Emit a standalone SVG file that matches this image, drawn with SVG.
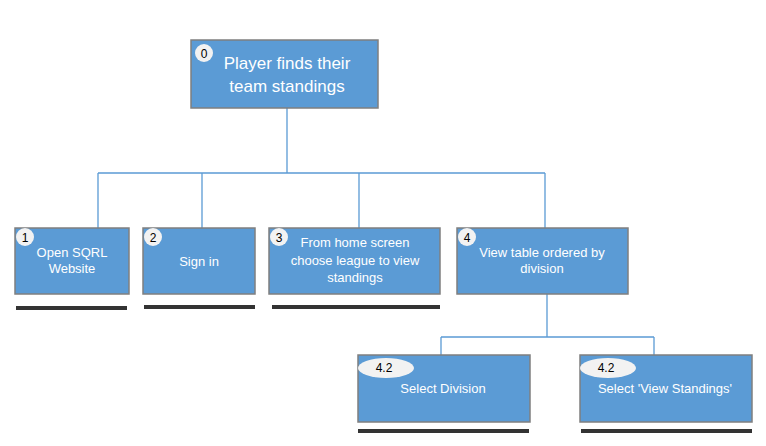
<svg xmlns="http://www.w3.org/2000/svg" width="766" height="446" viewBox="0 0 766 446">
<style>
.box{fill:#5b9bd5;stroke:#7f7f7f;stroke-width:1.5}
.t{font-family:"Liberation Sans",Arial,sans-serif;fill:#fff;text-anchor:middle;font-size:13px}
.tb{font-family:"Liberation Sans",Arial,sans-serif;fill:#fff;text-anchor:middle;font-size:17px}
.badge{fill:#f2f2f2}
.bt{font-family:"Liberation Sans",Arial,sans-serif;fill:#000;text-anchor:middle;font-size:12px}
.ul{stroke:#333;stroke-width:4}
.c{fill:none;stroke:#5b9bd5;stroke-width:1.3}
</style>
<rect width="766" height="446" fill="#fff"/>
<g id="connectors">
<path class="c" d="M287 108V173M98 173H545M98 173V228M202 173V228M359 173V228M545 173V228"/>
<path class="c" d="M547 294V337M441 337H654M441 337V355M654 337V355"/>
</g>
<g id="n0">
<rect class="box" x="191" y="40" width="187" height="68"/>
<circle class="badge" cx="204" cy="53" r="9"/>
<text class="bt" x="204" y="57.5">0</text>
<text class="tb" x="287" y="69">Player finds their</text>
<text class="tb" x="287" y="92">team standings</text>
</g>
<g id="n1">
<rect class="box" x="15" y="228" width="114" height="66"/>
<circle class="badge" cx="25" cy="237" r="9"/>
<text class="bt" x="25" y="241.5">1</text>
<text class="t" x="72" y="257">Open SQRL</text>
<text class="t" x="72" y="273">Website</text>
<line class="ul" x1="16" y1="308" x2="127" y2="308"/>
</g>
<g id="n2">
<rect class="box" x="143" y="228" width="112" height="66"/>
<circle class="badge" cx="153" cy="237" r="9"/>
<text class="bt" x="153" y="241.5">2</text>
<text class="t" x="199" y="266">Sign in</text>
<line class="ul" x1="144" y1="307" x2="255" y2="307"/>
</g>
<g id="n3">
<rect class="box" x="269" y="228" width="171" height="66"/>
<circle class="badge" cx="279" cy="237" r="9"/>
<text class="bt" x="279" y="241.5">3</text>
<text class="t" x="355" y="247">From home screen</text>
<text class="t" x="355" y="265">choose league to view</text>
<text class="t" x="355" y="282">standings</text>
<line class="ul" x1="272" y1="307" x2="440" y2="307"/>
</g>
<g id="n4">
<rect class="box" x="457" y="228" width="171" height="66"/>
<circle class="badge" cx="467" cy="237" r="9"/>
<text class="bt" x="467" y="241.5">4</text>
<text class="t" x="542" y="257">View table ordered by</text>
<text class="t" x="542" y="273">division</text>
</g>
<g id="n4_2a">
<rect class="box" x="358" y="355" width="172" height="67"/>
<ellipse class="badge" cx="386" cy="368" rx="28" ry="10"/>
<text class="bt" x="384" y="372">4.2</text>
<text class="t" x="443" y="393">Select Division</text>
<line class="ul" x1="358" y1="431" x2="529" y2="431"/>
</g>
<g id="n4_2b">
<rect class="box" x="580" y="355" width="172" height="67"/>
<ellipse class="badge" cx="608" cy="368" rx="28" ry="10"/>
<text class="bt" x="606" y="372">4.2</text>
<text class="t" x="665" y="393">Select 'View Standings'</text>
<line class="ul" x1="581" y1="431" x2="752" y2="431"/>
</g>
</svg>
